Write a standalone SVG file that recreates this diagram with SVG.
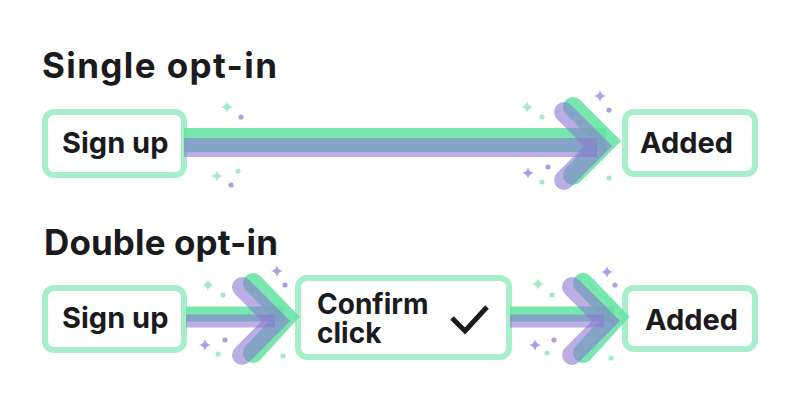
<svg xmlns="http://www.w3.org/2000/svg" width="800" height="420" viewBox="0 0 800 420">
  <style>
    .title { font-family: Inter, "Liberation Sans", sans-serif; font-weight: 700; font-size: 35px; fill: #1b1b1d; }
    .label { font-family: Inter, "Liberation Sans", sans-serif; font-weight: 700; font-size: 29px; fill: #1b1b1d; }
    .label2 { font-family: Inter, "Liberation Sans", sans-serif; font-weight: 700; font-size: 28px; fill: #1b1b1d; }
    .box { fill: #ffffff; stroke: #a9eecb; stroke-width: 6; }
    .g { fill: none; stroke: #5fe3a0; stroke-opacity: 0.85; stroke-linecap: round; stroke-linejoin: miter; }
    .p { fill: none; stroke: #8c78d2; stroke-opacity: 0.6; stroke-linecap: round; stroke-linejoin: miter; }
    .gs { fill: none; stroke: #5fe3a0; stroke-opacity: 0.85; }
    .ps { fill: none; stroke: #8c78d2; stroke-opacity: 0.6; }
    .sg { fill: #a4ebc8; }
    .sp { fill: #ab9ee2; }
  </style>
  <defs>
    <path id="star" d="M0,-6 Q0.8,-0.8 6,0 Q0.8,0.8 0,6 Q-0.8,0.8 -6,0 Q-0.8,-0.8 0,-6 Z"/>
  </defs>
  <rect width="800" height="420" fill="#ffffff"/>

  <text class="title" x="42" y="78" textLength="235" lengthAdjust="spacing">Single opt-in</text>
  <text class="title" x="44" y="255" textLength="234" lengthAdjust="spacing">Double opt-in</text>

  <g id="single-signup">
    <rect class="box" x="45" y="112" width="139" height="63" rx="9"/>
    <text class="label" x="62" y="153">Sign up</text>
  </g>
  <g id="single-added">
    <rect class="box" x="625" y="112" width="130" height="62" rx="9"/>
    <text class="label" x="640" y="153">Added</text>
  </g>
  <g id="double-signup">
    <rect class="box" x="45" y="288" width="139" height="62" rx="9"/>
    <text class="label" x="62" y="328">Sign up</text>
  </g>
  <g id="double-confirm">
    <rect class="box" x="298" y="278" width="211" height="79" rx="9"/>
    <text class="label2"><tspan x="317" y="314">Confirm</tspan><tspan x="317" y="343">click</tspan></text>
    <polyline points="452,318 465,331 487,307" fill="none" stroke="#1b1b1d" stroke-width="5" stroke-linecap="butt" stroke-linejoin="miter"/>
  </g>
  <g id="double-added">
    <rect class="box" x="625" y="288" width="130" height="61" rx="9"/>
    <text class="label" x="645" y="330">Added</text>
  </g>

  <g id="connectors">
    <line class="gs" x1="184" y1="140" x2="606" y2="140" stroke-width="24"/>
    <polyline class="g" points="573,107 607,141 573,175" stroke-width="20"/>
    <line class="ps" x1="184" y1="147.5" x2="597" y2="147.5" stroke-width="19"/>
    <polyline class="p" points="564,112 598,146 564,180" stroke-width="20"/>

    <line class="gs" x1="186" y1="314" x2="284" y2="314" stroke-width="15"/>
    <polyline class="g" points="253,283 286,317 253,353" stroke-width="20"/>
    <line class="ps" x1="186" y1="321" x2="275" y2="321" stroke-width="13"/>
    <polyline class="p" points="242,287 276,321 242,355" stroke-width="20"/>

    <line class="gs" x1="510" y1="314" x2="614" y2="314" stroke-width="15"/>
    <polyline class="g" points="583,283 616,317 583,353" stroke-width="20"/>
    <line class="ps" x1="510" y1="321" x2="604" y2="321" stroke-width="13"/>
    <polyline class="p" points="572,287 606,321 572,355" stroke-width="20"/>
  </g>

  <g id="sparkles">
    <use href="#star" class="sg" x="227" y="107"/>
    <circle class="sp" cx="241" cy="117" r="2.6"/>
    <use href="#star" class="sg" x="217" y="176"/>
    <circle class="sg" cx="238" cy="171" r="2.6"/>
    <circle class="sp" cx="231" cy="185" r="2.6"/>
    <use href="#star" class="sg" x="527" y="107"/>
    <circle class="sg" cx="542" cy="117" r="2.6"/>
    <use href="#star" class="sp" x="600" y="96"/>
    <circle class="sp" cx="609" cy="110" r="2.6"/>
    <use href="#star" class="sp" x="528" y="173"/>
    <circle class="sp" cx="548" cy="167" r="2.6"/>
    <circle class="sg" cx="542" cy="182" r="2.6"/>
    <circle class="sg" cx="609" cy="178" r="2.6"/>
    <use href="#star" class="sg" x="208" y="285"/>
    <circle class="sg" cx="223" cy="295" r="2.6"/>
    <use href="#star" class="sp" x="277" y="271"/>
    <circle class="sp" cx="285" cy="285" r="2.6"/>
    <use href="#star" class="sp" x="205" y="345"/>
    <circle class="sp" cx="225" cy="340" r="2.6"/>
    <circle class="sg" cx="218" cy="354" r="2.6"/>
    <circle class="sg" cx="283" cy="356" r="2.6"/>
    <use href="#star" class="sg" x="538" y="284"/>
    <circle class="sg" cx="552" cy="295" r="2.6"/>
    <use href="#star" class="sp" x="607" y="272"/>
    <circle class="sp" cx="615" cy="285" r="2.6"/>
    <use href="#star" class="sp" x="535" y="345"/>
    <circle class="sp" cx="554" cy="340" r="2.6"/>
    <circle class="sg" cx="547" cy="353" r="2.6"/>
    <circle class="sg" cx="611" cy="358" r="2.6"/>
  </g>
</svg>
